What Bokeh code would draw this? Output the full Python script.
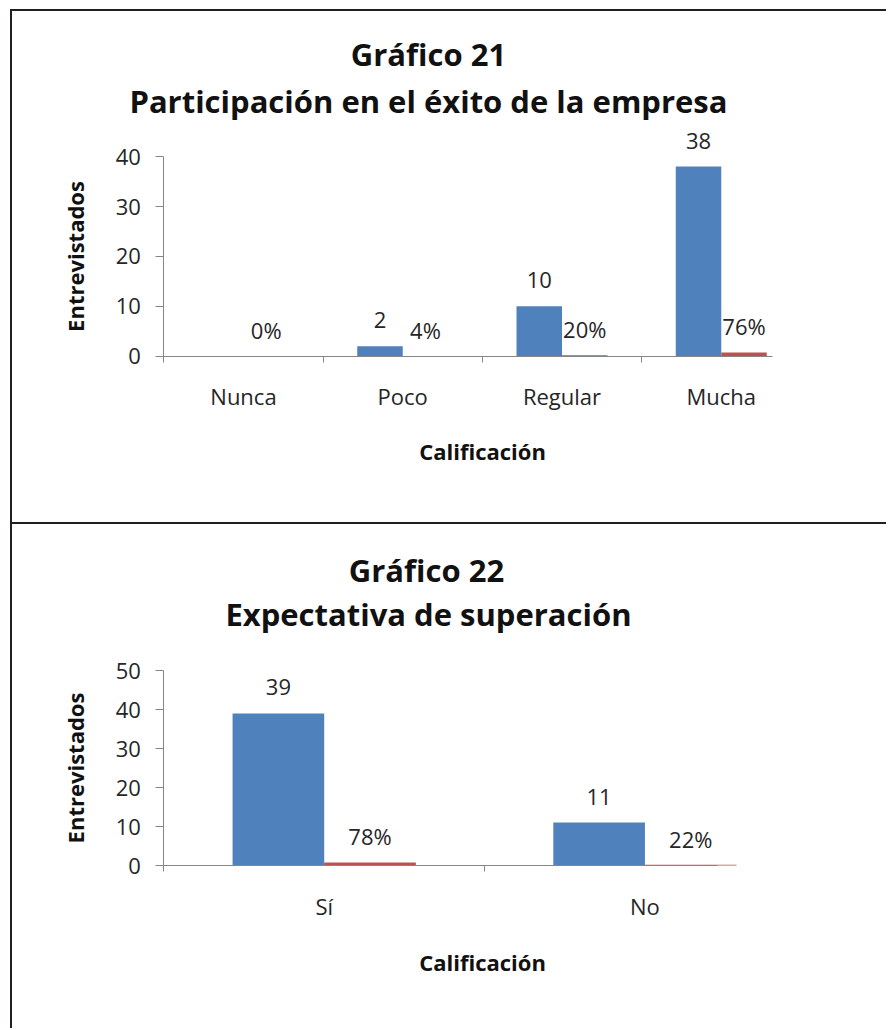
from bokeh.plotting import figure
from bokeh.models import ColumnDataSource, FixedTicker, Label, LabelSet, Range1d
from bokeh.layouts import column
from bokeh.embed import file_html
from bokeh.resources import INLINE
from bokeh.core.properties import value

# ---------------- data ----------------
# Gráfico 21
cats21 = ["Nunca", "Poco", "Regular", "Mucha"]
counts21 = [0, 2, 10, 38]
pct21 = [0, 4, 20, 76]
yticks21 = [0, 10, 20, 30, 40]

# Gráfico 22
cats22 = ["Sí", "No"]
counts22 = [39, 11]
pct22 = [78, 22]
yticks22 = [0, 10, 20, 30, 40, 50]

# ---------------- style ----------------
BLUE = "#4F81BD"
RED = "#C0504D"
AXIS = "#868686"
TEXT = "#262626"
BORDER = "2px solid #231f20"
FONT = "Open Sans"
BAR_W = 1 / 3.5


def make_chart(title1, title2, cats, counts, pct, yticks, x_end,
               canvas, frame, title_pos, xlabel_pos, styles):
    # canvas = (left, top, right, bottom) page px of the drawing surface
    # frame  = (left, top, right, bottom) page px of the value area
    cl, ct, cr, cb = canvas
    fl, ft, fr, fb = frame
    ymax = yticks[-1]
    sx = x_end / (fr - fl)      # data units per px (x)
    sy = ymax / (fb - ft)       # data units per px (y)

    def dx(px):
        return (px - fl) * sx

    def dy(py):
        return (fb - py) * sy

    p = figure(frame_width=cr - cl, frame_height=cb - ct,
               min_border=0,
               x_range=Range1d(dx(cl), dx(cr)), y_range=Range1d(dy(cb), dy(ct)),
               output_backend="svg", toolbar_location=None, title=None,
               outline_line_color=None, background_fill_color="white",
               border_fill_color="white", styles=styles)
    p.xgrid.visible = False
    p.ygrid.visible = False

    n = len(cats)
    centers = [i + 0.5 for i in range(n)]
    blue_x = [c - BAR_W / 2 for c in centers]
    red_x = [c + BAR_W / 2 for c in centers]
    red_top = [v / 100 for v in pct]

    p.vbar(x=blue_x, width=BAR_W, top=counts, bottom=0,
           fill_color=BLUE, line_color=None)
    p.vbar(x=red_x, width=BAR_W, top=red_top, bottom=0,
           fill_color=RED, line_color=None)

    cnt_src = ColumnDataSource(dict(
        x=[x for x, c in zip(blue_x, counts) if c > 0],
        y=[c for c in counts if c > 0],
        t=[str(c) for c in counts if c > 0]))
    pct_src = ColumnDataSource(dict(
        x=red_x, y=red_top, t=[f"{v}%" for v in pct]))
    for src in (cnt_src, pct_src):
        p.add_layout(LabelSet(x="x", y="y", text="t", source=src,
                              text_align="center", text_baseline="middle",
                              y_offset=26, text_font=value(FONT),
                              text_font_size=value("22px"),
                              text_color=TEXT))

    # axes (placed at the value-area origin)
    xa = p.xaxis[0]
    xa.fixed_location = 0
    xa.bounds = (0, x_end)
    xa.ticker = FixedTicker(ticks=centers, minor_ticks=list(range(n)))
    xa.major_label_overrides = {c: lab for c, lab in zip(centers, cats)}
    xa.major_tick_out = 0
    xa.major_tick_in = 0
    xa.minor_tick_out = 6
    xa.minor_tick_in = 0
    xa.minor_tick_line_color = AXIS
    xa.axis_line_color = AXIS
    xa.major_label_text_font = FONT
    xa.major_label_text_font_size = "22px"
    xa.major_label_text_color = TEXT
    xa.major_label_standoff = 19

    ya = p.yaxis[0]
    ya.fixed_location = 0
    ya.bounds = (0, ymax)
    ya.ticker = FixedTicker(ticks=yticks)
    ya.major_tick_out = 8
    ya.major_tick_in = 0
    ya.minor_tick_out = 0
    ya.minor_tick_in = 0
    ya.axis_line_color = AXIS
    ya.major_tick_line_color = AXIS
    ya.major_label_text_font = FONT
    ya.major_label_text_font_size = "22px"
    ya.major_label_text_color = TEXT
    ya.major_label_standoff = 15
    ya.axis_label = "Entrevistados"
    ya.axis_label_text_font = FONT
    ya.axis_label_text_font_style = "bold"
    ya.axis_label_text_font_size = "22px"
    ya.axis_label_text_color = "#111111"
    ya.axis_label_standoff = 22

    (t1x, t1y), (t2x, t2y) = title_pos
    for tx, ty, txt in ((t1x, t1y, title1), (t2x, t2y, title2)):
        p.add_layout(Label(x=dx(tx), y=dy(ty), text=txt, text_font=FONT,
                           text_font_style="bold", text_font_size="31px",
                           text_align="center", text_baseline="middle",
                           text_color="#111111"))
    p.add_layout(Label(x=dx(xlabel_pos[0]), y=dy(xlabel_pos[1]),
                       text="Calificación", text_font=FONT,
                       text_font_style="bold", text_font_size="22px",
                       text_align="center", text_baseline="middle",
                       text_color="#111111"))
    return p


p1 = make_chart("Gráfico 21", "Participación en el éxito de la empresa",
                cats21, counts21, pct21, yticks21, 3.82,
                canvas=(12, 11, 886, 522), frame=(163, 155, 770, 353),
                title_pos=((427, 53), (427, 100)), xlabel_pos=(481, 447),
                styles={"border-left": BORDER, "border-top": BORDER,
                        "border-bottom": BORDER})
p2 = make_chart("Gráfico 22", "Expectativa de superación",
                cats22, counts22, pct22, yticks22, 1.725,
                canvas=(12, 524, 886, 1028), frame=(163, 670, 715, 865),
                title_pos=((425, 569), (427, 613)), xlabel_pos=(481, 961),
                styles={"border-left": BORDER})

layout = column(p1, p2, spacing=0, margin=(9, 0, 0, 10))
open("out.html", "w").write(file_html(layout, INLINE))
